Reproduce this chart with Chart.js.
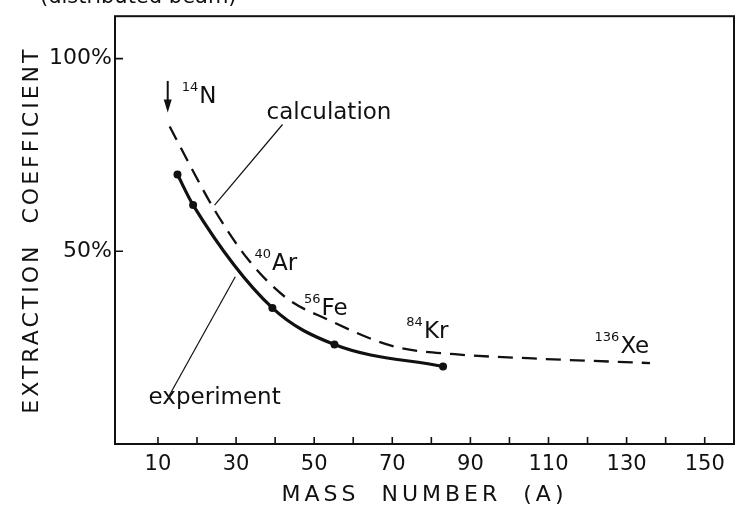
<!DOCTYPE html>
<html><head><meta charset="utf-8">
<script src="https://cdn.jsdelivr.net/npm/chart.js@4/dist/chart.umd.min.js"></script>
<style>html,body{margin:0;padding:0;background:#fff}#wrap{width:744px;height:508px;position:relative}</style>
</head><body><div id="wrap"><canvas id="c" width="744" height="508"></canvas></div>
<script>
// ---- data ----
const calcMass = [13, 18, 24.5, 33, 43, 53, 70.5, 86, 106, 136];
const calcCoef = [82.4, 72.7, 60.7, 48, 37.8, 32.5, 25.3, 23.3, 22.2, 21];
const expMass = [15, 19, 39.3, 55.2, 83];
const expCoef = [69.9, 62.0, 35.3, 25.8, 20.1];
const xTickValues = [10, 20, 30, 40, 50, 60, 70, 80, 90, 100, 110, 120, 130, 140, 150];
const xTickLabels = ['10', '', '30', '', '50', '', '70', '', '90', '', '110', '', '130', '', '150'];
const yTickValues = [50, 100];
const yTickLabels = ['50%', '100%'];
const isotopeMass = ['14', '40', '56', '84', '136'];
const isotopeSymbol = ['N', 'Ar', 'Fe', 'Kr', 'Xe'];
const seriesNames = ['calculation', 'experiment'];

// ---- annotation placement (data units) ----
const annot = {
  isotopeAt: [[16.1, 88.6], [34.7, 45.2], [47.4, 33.6], [73.6, 27.4], [121.8, 23.7]],
  calcLabelAt: [37.8, 84.2], calcLeader: [[41.9, 82.9], [24.5, 62.0]],
  expLabelAt: [7.6, 10.4], expLeader: [[12.9, 12.6], [29.8, 43.4]],
  arrow: [12.5, 94.2, 86.0]
};

const FONT = "'DejaVu Sans', sans-serif";
const INK = '#111';

const toPts = (xs, ys) => xs.map((v, i) => ({x: v, y: ys[i]}));

const spacedTitles = {
  id: 'spacedTitles',
  beforeDraw(chart) {
    Object.values(chart.scales).forEach(s => {
      if (s._spaced) return;
      const orig = s.drawTitle.bind(s);
      const sp = s.axis === 'x' ? '4px' : '3px';
      s.drawTitle = function () { const c = this.ctx; c.save(); c.letterSpacing = sp; orig(); c.restore(); };
      s._spaced = true;
    });
  }
};

const frameAndNotes = {
  id: 'frameAndNotes',
  afterDraw(chart) {
    const {ctx, chartArea: a, scales: {x, y}} = chart;
    const X = v => x.getPixelForValue(v), Y = v => y.getPixelForValue(v);
    ctx.save();
    ctx.strokeStyle = INK; ctx.fillStyle = INK;
    ctx.lineWidth = 2;
    ctx.strokeRect(a.left, a.top, a.right - a.left, a.bottom - a.top);
    ctx.lineWidth = 1.6;
    ctx.beginPath();
    x.ticks.forEach(t => { const p = X(t.value); ctx.moveTo(p, a.bottom); ctx.lineTo(p, a.bottom - 7); });
    y.ticks.forEach(t => { const p = Y(t.value); ctx.moveTo(a.left, p); ctx.lineTo(a.left + 8, p); });
    ctx.stroke();

    // leader lines
    ctx.lineWidth = 1.2;
    [annot.calcLeader, annot.expLeader].forEach(l => {
      ctx.beginPath(); ctx.moveTo(X(l[0][0]), Y(l[0][1])); ctx.lineTo(X(l[1][0]), Y(l[1][1])); ctx.stroke();
    });
    // arrow
    const ax = X(annot.arrow[0]), ay0 = Y(annot.arrow[1]), ay1 = Y(annot.arrow[2]);
    ctx.lineWidth = 2;
    ctx.beginPath(); ctx.moveTo(ax, ay0); ctx.lineTo(ax, ay1 - 12); ctx.stroke();
    ctx.beginPath(); ctx.moveTo(ax - 4, ay1 - 13); ctx.lineTo(ax + 4, ay1 - 13); ctx.lineTo(ax, ay1); ctx.closePath(); ctx.fill();

    // texts
    ctx.textBaseline = 'alphabetic'; ctx.textAlign = 'left';
    isotopeMass.forEach((m, i) => {
      const [vx, vy] = annot.isotopeAt[i];
      let px = X(vx); const py = Y(vy);
      ctx.font = `13px ${FONT}`;
      ctx.fillText(m, px, py - 12);
      px += ctx.measureText(m).width + 1;
      ctx.font = `23px ${FONT}`;
      ctx.fillText(isotopeSymbol[i], px, py);
    });
    ctx.font = `23px ${FONT}`;
    ctx.fillText(seriesNames[0], X(annot.calcLabelAt[0]), Y(annot.calcLabelAt[1]));
    ctx.fillText(seriesNames[1], X(annot.expLabelAt[0]), Y(annot.expLabelAt[1]));

    // clipped caption at the top edge
    ctx.font = `21px ${FONT}`;
    ctx.fillText('(distributed beam)', 40, 3);
    ctx.restore();
  }
};

new Chart(document.getElementById('c'), {
  type: 'line',
  data: {
    datasets: [
      {label: seriesNames[0], data: toPts(calcMass, calcCoef), borderColor: INK, borderWidth: 2.3,
       borderDash: [15, 9], pointRadius: 0, cubicInterpolationMode: 'monotone', fill: false},
      {label: seriesNames[1], data: toPts(expMass, expCoef), borderColor: INK, borderWidth: 3.2,
       pointRadius: 4, pointBackgroundColor: INK, pointBorderColor: INK, pointBorderWidth: 0,
       cubicInterpolationMode: 'monotone', fill: false}
    ]
  },
  options: {
    responsive: false, animation: false, devicePixelRatio: 1,
    layout: {padding: {top: 11, right: 10, left: 0, bottom: 0}},
    plugins: {legend: {display: false}, tooltip: {enabled: false}},
    scales: {
      x: {
        type: 'linear', min: -1, max: 157.5,
        afterBuildTicks: s => { s.ticks = xTickValues.map(v => ({value: v})); },
        afterFit: s => { s.height = 64; },
        grid: {display: false, drawTicks: false}, border: {display: false},
        ticks: {callback: (v, i) => xTickLabels[i], autoSkip: false, maxRotation: 0,
                padding: 8, color: INK, font: {family: FONT, size: 21}},
        title: {display: true, text: 'MASS  NUMBER  (A)', color: INK,
                font: {family: FONT, size: 22}, padding: {top: 0, bottom: 0}}
      },
      y: {
        type: 'linear', min: 0, max: 111,
        afterBuildTicks: s => { s.ticks = yTickValues.map(v => ({value: v})); },
        afterFit: s => { s.width = 115; },
        grid: {display: false, drawTicks: false}, border: {display: false},
        ticks: {callback: (v, i) => yTickLabels[i], autoSkip: false, padding: 3,
                color: INK, font: {family: FONT, size: 22}},
        title: {display: true, text: 'EXTRACTION  COEFFICIENT', color: INK,
                font: {family: FONT, size: 22}, padding: {top: 19, bottom: 0}}
      }
    }
  },
  plugins: [spacedTitles, frameAndNotes]
});
</script>
</body></html>
